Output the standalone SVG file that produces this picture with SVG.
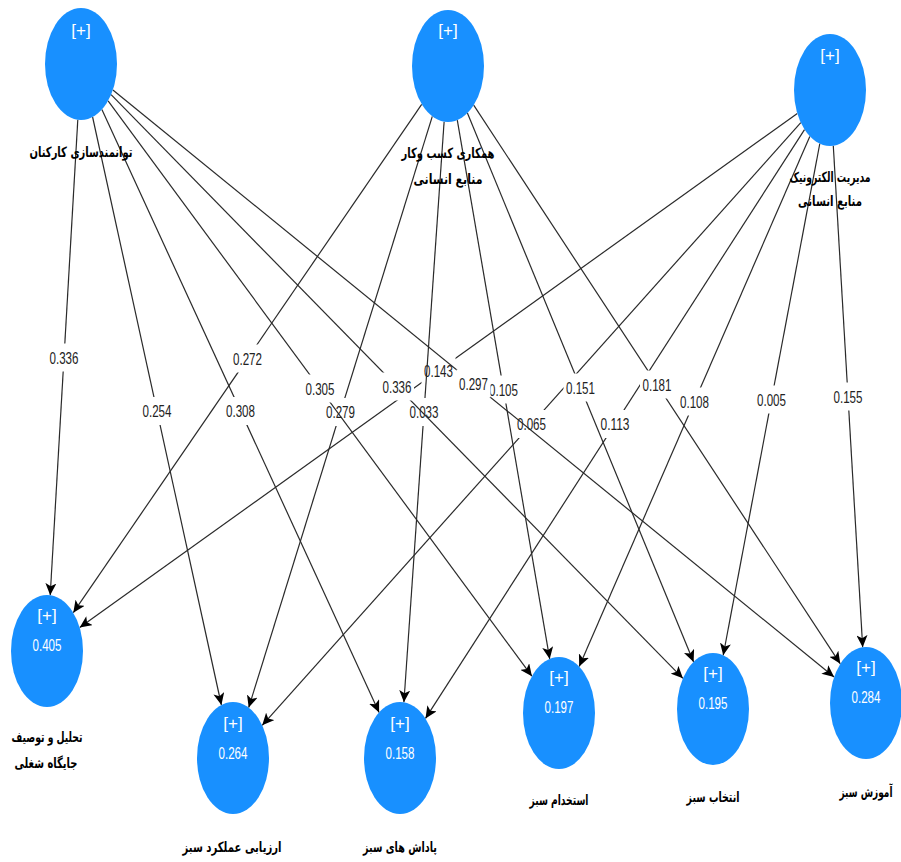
<svg xmlns="http://www.w3.org/2000/svg" width="901" height="862" viewBox="0 0 901 862">
<defs>
<marker id="arr" markerUnits="userSpaceOnUse" markerWidth="13" markerHeight="11" refX="12" refY="5.5" orient="auto">
<path d="M0,0 L12,5.5 L0,11 L3,5.5 z" fill="#000"/>
</marker>
<style>
.e{stroke:#2a2a2a;stroke-width:1.2;fill:none;marker-end:url(#arr)}
.lb{fill:#fff}
.n{font-family:"Liberation Sans Narrow","Liberation Sans",sans-serif;font-size:16px;fill:#222;text-anchor:middle}
.node{fill:#1890ff}
.w{font-family:"Liberation Sans Narrow","Liberation Sans",sans-serif;font-size:17px;fill:#fff;text-anchor:middle}
.ar{font-family:"DejaVu Sans",sans-serif;font-size:14px;font-weight:bold;fill:#000;text-anchor:middle}
</style>
</defs>
<rect width="901" height="862" fill="#fff"/>
<g id="connectors">
<g><line class="e" x1="797.3" y1="113.4" x2="79.7" y2="627.6"/><rect class="lb" x="421.5" y="356.5" width="34" height="28"/><text class="n" x="438.5" y="376.5" textLength="29" lengthAdjust="spacingAndGlyphs">0.143</text></g>
<g><line class="e" x1="800.8" y1="122.7" x2="262.2" y2="725.3"/><rect class="lb" x="514.5" y="410" width="34" height="28"/><text class="n" x="531.5" y="430" textLength="29" lengthAdjust="spacingAndGlyphs">0.065</text></g>
<g><line class="e" x1="804.5" y1="129.6" x2="425.5" y2="718.4"/><rect class="lb" x="598" y="410" width="34" height="28"/><text class="n" x="615" y="430" textLength="29" lengthAdjust="spacingAndGlyphs">0.113</text></g>
<g><line class="e" x1="809.8" y1="136.4" x2="579.2" y2="666.6"/><rect class="lb" x="677.5" y="387.5" width="34" height="28"/><text class="n" x="694.5" y="407.5" textLength="29" lengthAdjust="spacingAndGlyphs">0.108</text></g>
<g><line class="e" x1="819.8" y1="143.7" x2="723.2" y2="655.3"/><rect class="lb" x="754.5" y="385.5" width="34" height="28"/><text class="n" x="771.5" y="405.5" textLength="29" lengthAdjust="spacingAndGlyphs">0.005</text></g>
<g><line class="e" x1="833.3" y1="145.8" x2="862.7" y2="647.2"/><rect class="lb" x="831" y="382.5" width="34" height="28"/><text class="n" x="848" y="402.5" textLength="29" lengthAdjust="spacingAndGlyphs">0.155</text></g>
<g><line class="e" x1="421.7" y1="104.3" x2="73.3" y2="612.7"/><rect class="lb" x="230.5" y="344.5" width="34" height="28"/><text class="n" x="247.5" y="364.5" textLength="29" lengthAdjust="spacingAndGlyphs">0.272</text></g>
<g><line class="e" x1="432.3" y1="116.4" x2="248.7" y2="707.6"/><rect class="lb" x="323.5" y="398" width="34" height="28"/><text class="n" x="340.5" y="418" textLength="29" lengthAdjust="spacingAndGlyphs">0.279</text></g>
<g><line class="e" x1="444.1" y1="121.7" x2="403.9" y2="702.3"/><rect class="lb" x="407" y="398" width="34" height="28"/><text class="n" x="424" y="418" textLength="29" lengthAdjust="spacingAndGlyphs">0.033</text></g>
<g><line class="e" x1="457.3" y1="120.1" x2="549.7" y2="658.9"/><rect class="lb" x="486.5" y="375.5" width="34" height="28"/><text class="n" x="503.5" y="395.5" textLength="29" lengthAdjust="spacingAndGlyphs">0.105</text></g>
<g><line class="e" x1="467.4" y1="113.1" x2="693.6" y2="661.9"/><rect class="lb" x="563.5" y="373.5" width="34" height="28"/><text class="n" x="580.5" y="393.5" textLength="29" lengthAdjust="spacingAndGlyphs">0.151</text></g>
<g><line class="e" x1="473.7" y1="105.2" x2="840.3" y2="663.8"/><rect class="lb" x="640" y="370.5" width="34" height="28"/><text class="n" x="657" y="390.5" textLength="29" lengthAdjust="spacingAndGlyphs">0.181</text></g>
<g><line class="e" x1="77.8" y1="119.8" x2="50.2" y2="595.2"/><rect class="lb" x="47" y="343.5" width="34" height="28"/><text class="n" x="64" y="363.5" textLength="29" lengthAdjust="spacingAndGlyphs">0.336</text></g>
<g><line class="e" x1="92.6" y1="117.0" x2="221.4" y2="705.0"/><rect class="lb" x="140" y="397" width="34" height="28"/><text class="n" x="157" y="417" textLength="29" lengthAdjust="spacingAndGlyphs">0.254</text></g>
<g><line class="e" x1="101.9" y1="109.6" x2="379.1" y2="712.4"/><rect class="lb" x="223.5" y="397" width="34" height="28"/><text class="n" x="240.5" y="417" textLength="29" lengthAdjust="spacingAndGlyphs">0.308</text></g>
<g><line class="e" x1="108.1" y1="100.8" x2="531.9" y2="676.2"/><rect class="lb" x="303" y="374.5" width="34" height="28"/><text class="n" x="320" y="394.5" textLength="29" lengthAdjust="spacingAndGlyphs">0.305</text></g>
<g><line class="e" x1="111.1" y1="94.7" x2="682.9" y2="678.3"/><rect class="lb" x="380" y="372.5" width="34" height="28"/><text class="n" x="397" y="392.5" textLength="29" lengthAdjust="spacingAndGlyphs">0.336</text></g>
<g><line class="e" x1="112.9" y1="90.0" x2="834.1" y2="677.0"/><rect class="lb" x="456.5" y="369.5" width="34" height="28"/><text class="n" x="473.5" y="389.5" textLength="29" lengthAdjust="spacingAndGlyphs">0.297</text></g>
</g>
<g id="n1"><ellipse class="node" cx="81" cy="64" rx="36" ry="56"/><text class="w" x="81" y="36">[+]</text><text class="ar" x="81" y="157" textLength="103" lengthAdjust="spacingAndGlyphs">توانمندسازی کارکنان</text></g>
<g id="n2"><ellipse class="node" cx="448" cy="66" rx="36" ry="56"/><text class="w" x="448" y="36">[+]</text><text class="ar" x="448" y="158" textLength="93" lengthAdjust="spacingAndGlyphs">همکاری کسب وکار</text><text class="ar" x="448" y="184" textLength="69" lengthAdjust="spacingAndGlyphs">منابع انسانی</text></g>
<g id="n3"><ellipse class="node" cx="830" cy="90" rx="36" ry="56"/><text class="w" x="830" y="61">[+]</text><text class="ar" x="830" y="182" textLength="81" lengthAdjust="spacingAndGlyphs">مدیریت الکترونیک</text><text class="ar" x="830" y="206" textLength="64" lengthAdjust="spacingAndGlyphs">منابع انسانی</text></g>
<g id="b1"><ellipse class="node" cx="47" cy="651" rx="36" ry="56"/><text class="w" x="47" y="621">[+]</text><text class="w" x="47" y="651" textLength="29" lengthAdjust="spacingAndGlyphs">0.405</text><text class="ar" x="47" y="742" textLength="71" lengthAdjust="spacingAndGlyphs">تحلیل و توصیف</text><text class="ar" x="46" y="768" textLength="63" lengthAdjust="spacingAndGlyphs">جایگاه شغلی</text></g>
<g id="b2"><ellipse class="node" cx="233" cy="758" rx="36" ry="56"/><text class="w" x="233" y="729">[+]</text><text class="w" x="233" y="759" textLength="29" lengthAdjust="spacingAndGlyphs">0.264</text><text class="ar" x="232" y="852" textLength="99" lengthAdjust="spacingAndGlyphs">ارزیابی عملکرد سبز</text></g>
<g id="b3"><ellipse class="node" cx="400" cy="758" rx="36" ry="56"/><text class="w" x="400" y="729">[+]</text><text class="w" x="400" y="759" textLength="29" lengthAdjust="spacingAndGlyphs">0.158</text><text class="ar" x="400" y="852" textLength="74" lengthAdjust="spacingAndGlyphs">پاداش های سبز</text></g>
<g id="b4"><ellipse class="node" cx="559" cy="713" rx="36" ry="56"/><text class="w" x="559" y="683">[+]</text><text class="w" x="559" y="713" textLength="29" lengthAdjust="spacingAndGlyphs">0.197</text><text class="ar" x="559" y="805" textLength="59" lengthAdjust="spacingAndGlyphs">استخدام سبز</text></g>
<g id="b5"><ellipse class="node" cx="713" cy="709" rx="36" ry="56"/><text class="w" x="713" y="679">[+]</text><text class="w" x="713" y="709" textLength="29" lengthAdjust="spacingAndGlyphs">0.195</text><text class="ar" x="713" y="802" textLength="53" lengthAdjust="spacingAndGlyphs">انتخاب سبز</text></g>
<g id="b6"><ellipse class="node" cx="866" cy="703" rx="36" ry="56"/><text class="w" x="866" y="673">[+]</text><text class="w" x="866" y="703" textLength="29" lengthAdjust="spacingAndGlyphs">0.284</text><text class="ar" x="866" y="797" textLength="53" lengthAdjust="spacingAndGlyphs">آموزش سبز</text></g>
</svg>
